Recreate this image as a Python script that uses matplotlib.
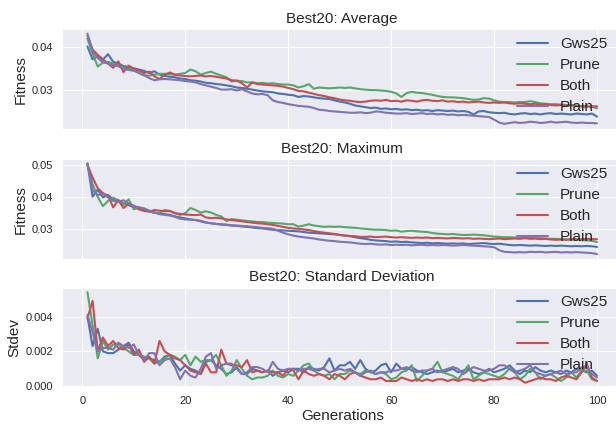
import matplotlib
matplotlib.use("Agg")
import matplotlib.pyplot as plt
import seaborn as sns

sns.set_style("darkgrid")
plt.rcParams["font.family"] = ["Liberation Sans", "DejaVu Sans"]

generations = list(range(1, 101))
labels = ["Gws25", "Prune", "Both", "Plain"]
colors = ["#4C72B0", "#55A868", "#C44E52", "#8172B2"]

# best-20 average fitness per generation
avg_gws25 = [
    .0402, .0372, .0379, .0371, .0384, .0366, .0362, .0356, .0354, .0351,
    .0348, .0345, .0340, .0344, .0336, .0333, .0331, .0330, .0327, .0326,
    .0323, .0322, .0320, .0317, .0316, .0314, .0313, .0311, .0309, .0306,
    .0305, .0303, .0301, .0299, .0297, .0296, .0295, .0292, .0291, .0289,
    .0288, .0284, .0286, .0285, .0283, .0281, .0280, .0279, .0276, .0273,
    .0271, .0268, .0264, .0262, .0260, .0258, .0259, .0256, .0257, .0255,
    .0256, .0254, .0255, .0253, .0254, .0252, .0253, .0251, .0253, .0252,
    .0251, .0252, .0250, .0251, .0249, .0243, .0250, .0251, .0248, .0247,
    .0246, .0247, .0244, .0243, .0245, .0246, .0244, .0245, .0243, .0245,
    .0246, .0244, .0245, .0244, .0243, .0245, .0244, .0243, .0245, .0238,
]
avg_prune = [
    .0420, .0385, .0355, .0364, .0366, .0362, .0356, .0352, .0350, .0348,
    .0340, .0334, .0334, .0336, .0338, .0338, .0337, .0336, .0338, .0340,
    .0348, .0344, .0336, .0340, .0343, .0338, .0334, .0330, .0320, .0322,
    .0321, .0318, .0318, .0316, .0317, .0315, .0316, .0314, .0313, .0313,
    .0311, .0306, .0309, .0314, .0303, .0306, .0305, .0304, .0305, .0306,
    .0305, .0306, .0304, .0302, .0301, .0300, .0300, .0299, .0298, .0296,
    .0292, .0284, .0293, .0296, .0294, .0293, .0291, .0289, .0286, .0284,
    .0283, .0283, .0282, .0281, .0279, .0277, .0278, .0281, .0280, .0276,
    .0273, .0272, .0272, .0271, .0272, .0272, .0274, .0272, .0269, .0268,
    .0267, .0267, .0266, .0265, .0265, .0264, .0262, .0262, .0261, .0257,
]
avg_both = [
    .0428, .0395, .0382, .0372, .0362, .0352, .0367, .0342, .0357, .0350,
    .0346, .0340, .0343, .0332, .0326, .0336, .0341, .0336, .0334, .0333,
    .0332, .0333, .0334, .0332, .0333, .0331, .0329, .0327, .0323, .0322,
    .0316, .0306, .0318, .0314, .0313, .0312, .0311, .0310, .0308, .0305,
    .0302, .0298, .0297, .0294, .0291, .0288, .0286, .0283, .0281, .0278,
    .0276, .0275, .0273, .0272, .0273, .0275, .0276, .0275, .0277, .0274,
    .0275, .0273, .0276, .0275, .0273, .0276, .0277, .0275, .0274, .0276,
    .0273, .0274, .0272, .0273, .0271, .0272, .0273, .0271, .0270, .0271,
    .0270, .0271, .0269, .0268, .0269, .0268, .0267, .0268, .0266, .0267,
    .0265, .0264, .0265, .0263, .0264, .0263, .0262, .0261, .0262, .0262,
]
avg_plain = [
    .0432, .0390, .0375, .0365, .0362, .0358, .0356, .0350, .0347, .0345,
    .0340, .0335, .0328, .0323, .0325, .0326, .0325, .0324, .0323, .0321,
    .0320, .0318, .0314, .0311, .0308, .0305, .0301, .0301, .0302, .0299,
    .0302, .0297, .0292, .0290, .0291, .0288, .0276, .0272, .0270, .0267,
    .0265, .0263, .0262, .0261, .0258, .0254, .0253, .0251, .0250, .0249,
    .0248, .0247, .0247, .0248, .0246, .0247, .0250, .0249, .0247, .0246,
    .0245, .0245, .0246, .0244, .0245, .0246, .0244, .0245, .0243, .0244,
    .0242, .0243, .0241, .0242, .0241, .0240, .0239, .0238, .0237, .0231,
    .0224, .0221, .0223, .0225, .0223, .0224, .0226, .0225, .0223, .0224,
    .0226, .0224, .0225, .0226, .0224, .0223, .0224, .0223, .0223, .0222,
]

# best-20 maximum fitness per generation
max_gws25 = [
    .0504, .0401, .0423, .0399, .0406, .0393, .0389, .0380, .0375, .0368,
    .0365, .0360, .0356, .0351, .0350, .0347, .0345, .0340, .0337, .0334,
    .0331, .0329, .0325, .0321, .0319, .0317, .0315, .0314, .0312, .0311,
    .0309, .0308, .0306, .0304, .0303, .0301, .0299, .0298, .0297, .0296,
    .0295, .0294, .0292, .0290, .0289, .0288, .0287, .0286, .0285, .0283,
    .0281, .0279, .0276, .0273, .0271, .0268, .0266, .0265, .0264, .0262,
    .0263, .0261, .0262, .0260, .0259, .0258, .0259, .0257, .0258, .0257,
    .0256, .0257, .0256, .0257, .0255, .0256, .0257, .0258, .0256, .0255,
    .0256, .0254, .0252, .0251, .0252, .0251, .0250, .0251, .0250, .0249,
    .0250, .0249, .0250, .0249, .0248, .0249, .0248, .0249, .0248, .0246,
]
max_prune = [
    .0500, .0440, .0400, .0372, .0388, .0398, .0390, .0376, .0393, .0362,
    .0368, .0365, .0357, .0352, .0351, .0360, .0357, .0350, .0345, .0350,
    .0366, .0360, .0352, .0356, .0352, .0345, .0340, .0326, .0332, .0330,
    .0328, .0326, .0325, .0323, .0323, .0321, .0320, .0319, .0318, .0316,
    .0316, .0309, .0312, .0316, .0312, .0310, .0308, .0309, .0308, .0309,
    .0307, .0306, .0305, .0303, .0302, .0300, .0299, .0299, .0298, .0296,
    .0297, .0293, .0295, .0296, .0294, .0293, .0292, .0289, .0287, .0286,
    .0285, .0286, .0284, .0283, .0283, .0284, .0283, .0282, .0280, .0278,
    .0277, .0276, .0276, .0275, .0276, .0275, .0274, .0273, .0273, .0272,
    .0271, .0271, .0270, .0269, .0268, .0269, .0267, .0266, .0265, .0261,
]
max_both = [
    .0499, .0460, .0427, .0412, .0404, .0368, .0390, .0366, .0379, .0373,
    .0362, .0357, .0355, .0360, .0358, .0356, .0357, .0350, .0348, .0346,
    .0345, .0344, .0346, .0337, .0335, .0336, .0334, .0331, .0329, .0327,
    .0325, .0323, .0321, .0319, .0318, .0316, .0314, .0311, .0308, .0305,
    .0303, .0302, .0300, .0298, .0295, .0292, .0290, .0288, .0286, .0283,
    .0281, .0280, .0279, .0277, .0277, .0278, .0276, .0277, .0278, .0276,
    .0275, .0276, .0275, .0274, .0275, .0274, .0275, .0273, .0274, .0273,
    .0272, .0274, .0273, .0272, .0273, .0271, .0272, .0271, .0270, .0271,
    .0272, .0270, .0271, .0272, .0271, .0273, .0271, .0272, .0270, .0271,
    .0269, .0268, .0269, .0268, .0270, .0269, .0270, .0271, .0270, .0270,
]
max_plain = [
    .0503, .0421, .0406, .0410, .0399, .0388, .0385, .0390, .0380, .0372,
    .0368, .0364, .0358, .0352, .0347, .0345, .0343, .0339, .0333, .0331,
    .0330, .0329, .0327, .0322, .0319, .0317, .0316, .0315, .0313, .0312,
    .0311, .0310, .0308, .0307, .0305, .0304, .0302, .0296, .0290, .0285,
    .0281, .0278, .0276, .0274, .0272, .0269, .0267, .0265, .0264, .0262,
    .0261, .0260, .0258, .0256, .0255, .0256, .0254, .0253, .0254, .0252,
    .0253, .0252, .0253, .0251, .0252, .0253, .0251, .0252, .0251, .0252,
    .0251, .0250, .0251, .0252, .0251, .0250, .0249, .0248, .0247, .0245,
    .0236, .0231, .0230, .0229, .0230, .0229, .0231, .0230, .0231, .0229,
    .0230, .0231, .0229, .0230, .0229, .0230, .0229, .0228, .0227, .0224,
]

# best-20 standard deviation per generation
std_gws25 = [
    .0040, .0023, .0033, .0020, .0019, .0019, .0021, .0023, .0025, .0020,
    .0018, .0016, .0016, .0015, .0014, .0017, .0018, .0013, .0009, .0012,
    .0010, .0009, .0007, .0014, .0015, .0012, .0010, .0007, .0008, .0011,
    .0007, .0007, .0010, .0009, .0008, .0009, .0006, .0008, .0009, .0008,
    .0010, .0010, .0008, .0011, .0010, .0009, .0011, .0016, .0009, .0012,
    .0012, .0014, .0010, .0015, .0010, .0008, .0009, .0012, .0013, .0008,
    .0013, .0010, .0010, .0011, .0009, .0008, .0007, .0008, .0009, .0008,
    .0009, .0010, .0008, .0009, .0010, .0008, .0007, .0008, .0010, .0008,
    .0009, .0010, .0012, .0009, .0007, .0009, .0008, .0011, .0009, .0008,
    .0009, .0008, .0007, .0009, .0008, .0010, .0009, .0008, .0009, .0006,
]
std_prune = [
    .0054, .0035, .0016, .0026, .0021, .0024, .0024, .0022, .0020, .0018,
    .0018, .0017, .0016, .0013, .0014, .0016, .0018, .0017, .0015, .0018,
    .0012, .0017, .0014, .0015, .0015, .0018, .0012, .0006, .0009, .0015,
    .0010, .0006, .0004, .0005, .0005, .0006, .0009, .0006, .0005, .0007,
    .0006, .0009, .0012, .0013, .0009, .0007, .0006, .0007, .0004, .0007,
    .0007, .0009, .0008, .0007, .0009, .0008, .0007, .0008, .0007, .0004,
    .0005, .0008, .0009, .0012, .0003, .0006, .0009, .0010, .0014, .0008,
    .0007, .0006, .0004, .0008, .0012, .0004, .0006, .0008, .0007, .0006,
    .0005, .0007, .0010, .0008, .0004, .0006, .0010, .0008, .0004, .0006,
    .0007, .0005, .0003, .0005, .0008, .0005, .0009, .0009, .0004, .0003,
]
std_both = [
    .0039, .0049, .0020, .0028, .0023, .0026, .0022, .0021, .0024, .0018,
    .0021, .0014, .0017, .0013, .0026, .0020, .0018, .0016, .0015, .0012,
    .0009, .0008, .0007, .0013, .0008, .0008, .0021, .0013, .0012, .0012,
    .0011, .0015, .0008, .0009, .0008, .0009, .0008, .0008, .0006, .0010,
    .0009, .0004, .0009, .0007, .0006, .0007, .0006, .0004, .0007, .0006,
    .0004, .0007, .0008, .0006, .0005, .0004, .0004, .0005, .0003, .0003,
    .0003, .0005, .0004, .0003, .0004, .0003, .0004, .0003, .0004, .0004,
    .0003, .0004, .0003, .0004, .0004, .0003, .0004, .0003, .0004, .0004,
    .0004, .0005, .0004, .0005, .0004, .0002, .0003, .0004, .0005, .0004,
    .0004, .0003, .0005, .0006, .0005, .0004, .0008, .0013, .0005, .0003,
]
std_plain = [
    .0041, .0031, .0020, .0022, .0022, .0021, .0025, .0023, .0022, .0024,
    .0018, .0015, .0019, .0019, .0012, .0015, .0016, .0011, .0004, .0009,
    .0006, .0005, .0010, .0017, .0019, .0010, .0012, .0013, .0013, .0010,
    .0007, .0008, .0011, .0011, .0010, .0008, .0014, .0010, .0009, .0010,
    .0010, .0009, .0010, .0010, .0009, .0010, .0010, .0008, .0009, .0010,
    .0009, .0010, .0008, .0006, .0008, .0009, .0007, .0008, .0008, .0009,
    .0009, .0010, .0011, .0009, .0008, .0009, .0009, .0010, .0008, .0009,
    .0010, .0011, .0010, .0007, .0009, .0011, .0010, .0009, .0009, .0010,
    .0012, .0012, .0010, .0008, .0009, .0010, .0012, .0008, .0007, .0006,
    .0007, .0008, .0009, .0007, .0008, .0008, .0011, .0011, .0007, .0005,
]

panels = [
    ("Best20: Average", "Fitness", [avg_gws25, avg_prune, avg_both, avg_plain],
     [0.03, 0.04], (0.0209, 0.0442)),
    ("Best20: Maximum", "Fitness", [max_gws25, max_prune, max_both, max_plain],
     [0.03, 0.04, 0.05], (0.02086, 0.0516)),
    ("Best20: Standard Deviation", "Stdev", [std_gws25, std_prune, std_both, std_plain],
     [0.0, 0.002, 0.004], (-0.00006, 0.00566)),
]

fig = plt.figure(figsize=(6.16, 4.24), dpi=100)
bottoms = [0.6958, 0.389, 0.0866]
axes = []
for (title, ylabel, series, yticks, ylim), bottom in zip(panels, bottoms):
    ax = fig.add_axes([0.1006, bottom, 0.91, 0.235])
    for vals, lab, col in zip(series, labels, colors):
        ax.plot(generations, vals, color=col, lw=1.5, label=lab)
    ax.set_title(title, fontsize=11, pad=4.7, color=".15")
    ax.set_ylabel(ylabel, fontsize=11, labelpad=3, color=".15")
    ax.set_xlim(-3.95, 104.95)
    ax.set_ylim(*ylim)
    ax.set_xticks([0, 20, 40, 60, 80, 100])
    ax.set_yticks(yticks)
    ax.tick_params(labelsize=8, pad=6.3, length=0, colors=".15")
    ax.legend(loc="upper right", bbox_to_anchor=(0.9797, 0.965), frameon=False,
              fontsize=11, borderaxespad=0, borderpad=0.27,
              handlelength=2.0, handletextpad=0.8, labelspacing=0.46)
    axes.append(ax)

axes[0].tick_params(labelbottom=False)
axes[1].tick_params(labelbottom=False)
axes[2].yaxis.set_major_formatter(matplotlib.ticker.FormatStrFormatter("%.3f"))
axes[2].set_xlabel("Generations", fontsize=11, labelpad=2, color=".15")

fig.savefig("out.png", dpi=100)
